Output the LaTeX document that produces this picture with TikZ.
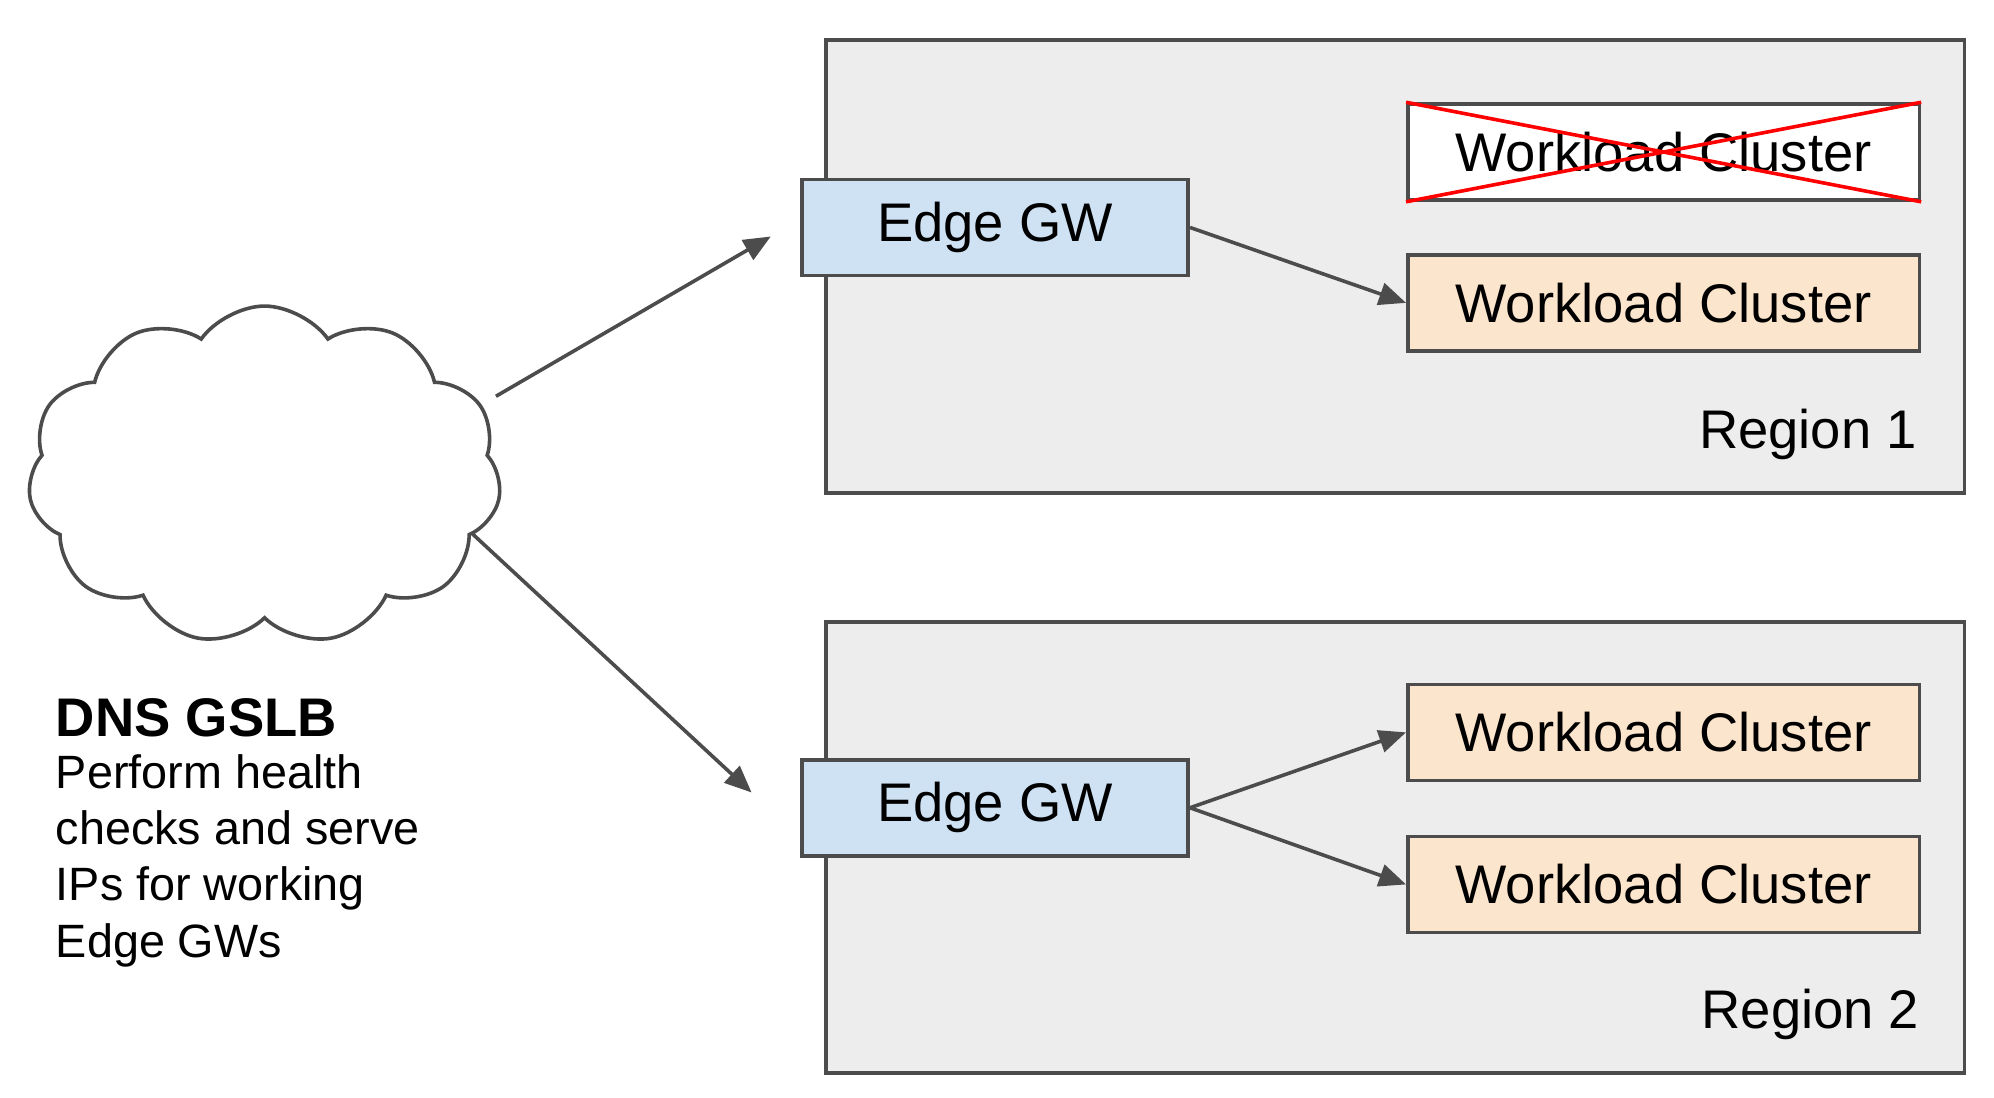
\documentclass[tikz,border=0pt]{standalone}
\usepackage{fontspec}
\setmainfont{Liberation Sans}
\usetikzlibrary{shapes.symbols,arrows.meta}
\begin{document}
\begin{tikzpicture}[x=0.01cm,y=-0.01cm,
  region/.style={draw=black!70,fill=black!7,line width=0.8pt,anchor=north west,inner sep=0},
  box/.style={draw=black!70,line width=0.8pt,anchor=north west,inner sep=0,minimum height=0.75cm,font=\fontsize{12.1}{14}\selectfont},
  gw/.style={box,minimum width=3.02cm,fill={rgb,255:red,207;green,226;blue,243}},
  wc/.style={box,minimum width=4cm,fill={rgb,255:red,252;green,229;blue,205}},
  arr/.style={draw=black!70,line width=0.8pt,-{Triangle[length=6pt,width=5pt]}}]
\useasboundingbox (0,0) rectangle (1560,859);
\node[region,minimum width=8.9cm,minimum height=3.54cm] (r1) at (645,30) {};
\node[region,minimum width=8.9cm,minimum height=3.53cm] (r2) at (645,485) {};
\node[box,fill=white,minimum width=4cm] (x) at (1100,80) {Workload Cluster};
\draw[red,line width=0.8pt] (x.north west) -- (x.south east) (x.south west) -- (x.north east);
\node[wc] (w1) at (1100,198) {Workload Cluster};
\node[wc] (w2) at (1100,534) {Workload Cluster};
\node[wc] (w3) at (1100,653) {Workload Cluster};
\node[gw] (g1) at (626,139) {Edge GW};
\node[gw] (g2) at (626,593) {Edge GW};
\node[font=\fontsize{12.1}{14}\selectfont,anchor=east] (l1) at (1512,340) {Region 1};
\node[font=\fontsize{12.1}{14}\selectfont,anchor=east] (l2) at (1514,794) {Region 2};
\node[cloud,cloud puffs=11,cloud puff arc=110,aspect=1.4,draw=black!70,fill=white,line width=0.8pt,minimum width=3.7cm,minimum height=2.65cm,inner sep=0] (c) at (207,372) {};
\coordinate (e1) at (603,185);
\coordinate (e2) at (588,620);
\draw[arr] (388,310) -- (e1);
\draw[arr] (370,418) -- (e2);
\draw[arr] (g1.east) -- (w1.west);
\draw[arr] (g2.east) -- (w2.west);
\draw[arr] (g2.east) -- (w3.west);
\node[anchor=north west,align=left,inner sep=0,font=\fontsize{10.4}{12.5}\selectfont] (t) at (43,546)
 {\textbf{\fontsize{12.1}{13}\selectfont DNS GSLB}\\[-1pt]Perform health\\checks and serve\\IPs for working\\Edge GWs};
\end{tikzpicture}
\end{document}
